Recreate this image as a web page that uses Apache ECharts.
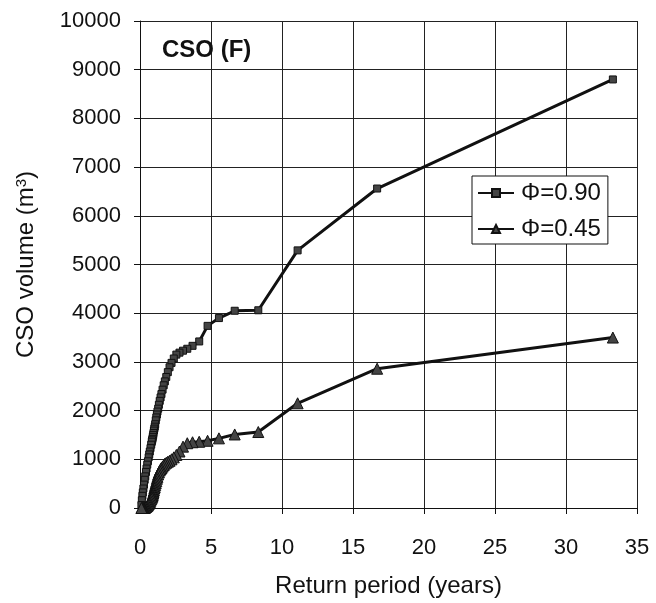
<!DOCTYPE html>
<html>
<head>
<meta charset="utf-8">
<script src="https://cdn.jsdelivr.net/npm/echarts@6/dist/echarts.min.js"></script>
<style>
html,body{margin:0;padding:0;background:#fff;}
#main{width:656px;height:603px;}
</style>
</head>
<body>
<div id="main"></div>
<script>
const returnPeriod = [33.3,16.7,11.1,8.33,6.67,5.56,4.76,4.17,3.70,3.33,3.03,2.78,2.56,2.38,2.22,2.08,1.96,1.85,1.75,1.67,1.59,1.51,1.45,1.39,1.33,1.28,1.23,1.19,1.15,1.11,1.07,1.04,1.01,0.98,0.95,0.93,0.90,0.88,0.85,0.83,0.79,0.74,0.69,0.65,0.61,0.56,0.51,0.46,0.42,0.37,0.33,0.28,0.24,0.20,0.17,0.13,0.10];
const volumePhi090 = [8800,6560,5290,4060,4050,3900,3740,3420,3330,3270,3230,3190,3150,3070,2980,2890,2790,2690,2600,2520,2430,2340,2270,2200,2120,2040,1980,1920,1860,1800,1720,1670,1630,1590,1540,1500,1460,1420,1390,1360,1300,1230,1160,1100,1040,960,890,810,740,650,580,480,400,320,250,160,60];
const volumePhi045 = [3500,2860,2150,1560,1510,1430,1380,1360,1350,1330,1260,1160,1090,1040,1000,970,950,930,910,880,850,820,800,770,730,690,640,600,550,510,470,430,400,360,330,300,270,250,230,210,180,150,120,100,80,60,40,30,20,10,0,0,0,0,0,0,0];
const seriesNames = ['\u03A6=0.90','\u03A6=0.45'];
const xTicks = [0,5,10,15,20,25,30,35];
const yTicks = [0,1000,2000,3000,4000,5000,6000,7000,8000,9000,10000];

const pairs = (xs, ys) => xs.map((x, i) => [x, ys[i]]);
const font = 'Liberation Sans, Arial, sans-serif';

const chart = echarts.init(document.getElementById('main'), null, {renderer:'canvas'});
chart.setOption({
  animation: false,
  backgroundColor: '#fff',
  grid: {left: 140, right: 19, top: 21, bottom: 95, containLabel: false},
  title: {
    text: 'CSO (F)', left: 162, top: 38, padding: 0,
    textStyle: {fontFamily: font, fontWeight: 'bold', fontSize: 24, color: '#111'}
  },
  legend: {
    data: seriesNames,
    orient: 'vertical',
    left: 472, top: 176,
    padding: [5, 7, 3, 5],
    itemGap: 12,
    itemWidth: 36, itemHeight: 10,
    backgroundColor: '#fff',
    borderColor: '#111', borderWidth: 1, borderRadius: 0,
    textStyle: {fontFamily: font, fontSize: 24, color: '#111', padding: [0,0,0,2]}
  },
  xAxis: {
    type: 'value', min: xTicks[0], max: xTicks[xTicks.length-1], interval: 5,
    name: 'Return period (years)', nameLocation: 'middle', nameGap: 66,
    nameTextStyle: {fontFamily: font, fontSize: 24, color: '#111'},
    axisLine: {show: true, lineStyle: {color: '#111', width: 1}},
    axisTick: {show: true, inside: false, length: 6, lineStyle: {color: '#111'}},
    axisLabel: {fontFamily: font, fontSize: 22, color: '#111', margin: 29},
    splitLine: {show: true, lineStyle: {color: '#222', width: 1}}
  },
  yAxis: {
    type: 'value', min: yTicks[0], max: yTicks[yTicks.length-1], interval: 1000,
    name: 'CSO volume (m{sup|3})', nameLocation: 'middle', nameGap: 101, nameRotate: 90,
    nameTextStyle: {fontFamily: font, fontSize: 24, color: '#111',
      rich: {sup: {fontFamily: font, fontSize: 15, color: '#111', verticalAlign: 'top', padding: [0,0,10,0]}}},
    axisLine: {show: true, lineStyle: {color: '#111', width: 1}},
    axisTick: {show: true, inside: false, length: 6, lineStyle: {color: '#111'}},
    axisLabel: {fontFamily: font, fontSize: 22, color: '#111', margin: 19,
      formatter: v => String(v)},
    splitLine: {show: true, lineStyle: {color: '#222', width: 1}}
  },
  series: [
    {
      name: seriesNames[0], type: 'line', data: pairs(returnPeriod, volumePhi090),
      symbol: 'rect', symbolSize: 7,
      lineStyle: {color: '#111', width: 3},
      itemStyle: {color: '#444', borderColor: '#111', borderWidth: 1}
    },
    {
      name: seriesNames[1], type: 'line', data: pairs(returnPeriod, volumePhi045),
      symbol: 'triangle', symbolSize: 11,
      lineStyle: {color: '#111', width: 3},
      itemStyle: {color: '#444', borderColor: '#111', borderWidth: 1}
    }
  ]
});
</script>
</body>
</html>
